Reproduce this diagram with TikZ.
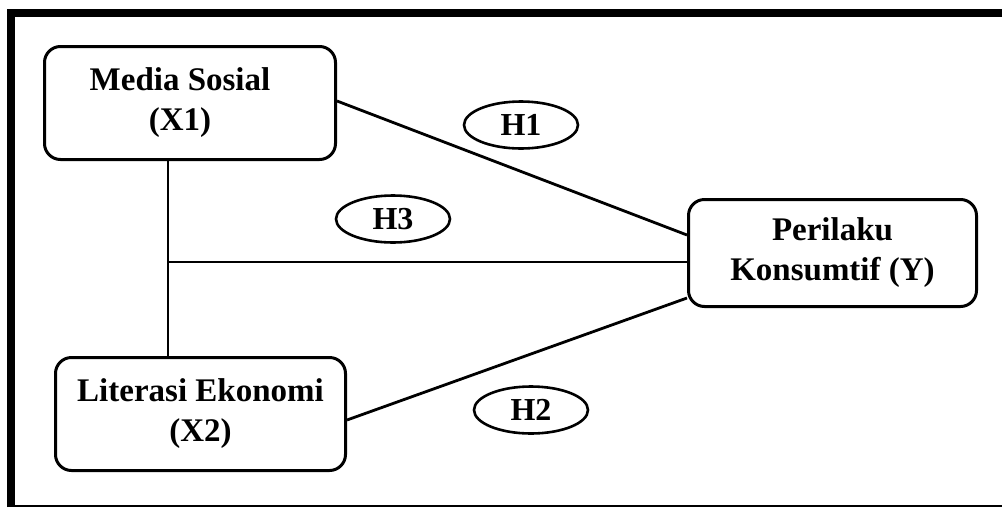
\documentclass[tikz,border=0pt]{standalone}
\usepackage{fontspec}
\setmainfont{Liberation Serif}
\usetikzlibrary{shapes.geometric}
\begin{document}
\begin{tikzpicture}[x=1pt,y=-1pt,
  varbox/.style={draw=black,line width=3pt,rounded corners=16pt,inner sep=0pt,align=center,
     font=\fontsize{33}{40}\selectfont\bfseries},
  hyp/.style={draw=black,ellipse,line width=2.6pt,inner sep=0pt,minimum width=114pt,minimum height=47pt,
     font=\fontsize{32}{38}\selectfont\bfseries},
  link/.style={line width=2.8pt}]
\fill[white] (0,0) rectangle (1002,507);
\useasboundingbox (0,0) rectangle (1002,507);
% frame
\draw[line width=8pt] (11,507) -- (11,12.5) -- (1002,12.5);
\draw[line width=2pt] (15,505.5) -- (1002,505.5);
% boxes
\node[varbox,minimum width=291pt,minimum height=113pt] (m) at (190,103) {Media Sosial\hspace*{20pt}\\(X1)\hspace*{20pt}};
\node[varbox,minimum width=288pt,minimum height=107pt] (p) at (832.5,253) {Perilaku\\Konsumtif (Y)};
\node[varbox,minimum width=290pt,minimum height=113pt] (l) at (200.5,414) {Literasi Ekonomi\\(X2)};
% hypotheses
\node[hyp] (h1) at (521,125) {H1};
\node[hyp] (h3) at (393,219) {H3};
\node[hyp] (h2) at (531,410) {H2};
% connectors
\coordinate (j) at (168,262);
\draw[link] (m.south -| j) -- (l.north -| j);
\draw[link] (j) -- (p.west |- j);
\draw[link] ([yshift=2pt]m.east) -- ([yshift=18pt]p.west);
\draw[link] ([yshift=-6pt]l.east) -- ([yshift=-45pt]p.west);
\end{tikzpicture}
\end{document}
